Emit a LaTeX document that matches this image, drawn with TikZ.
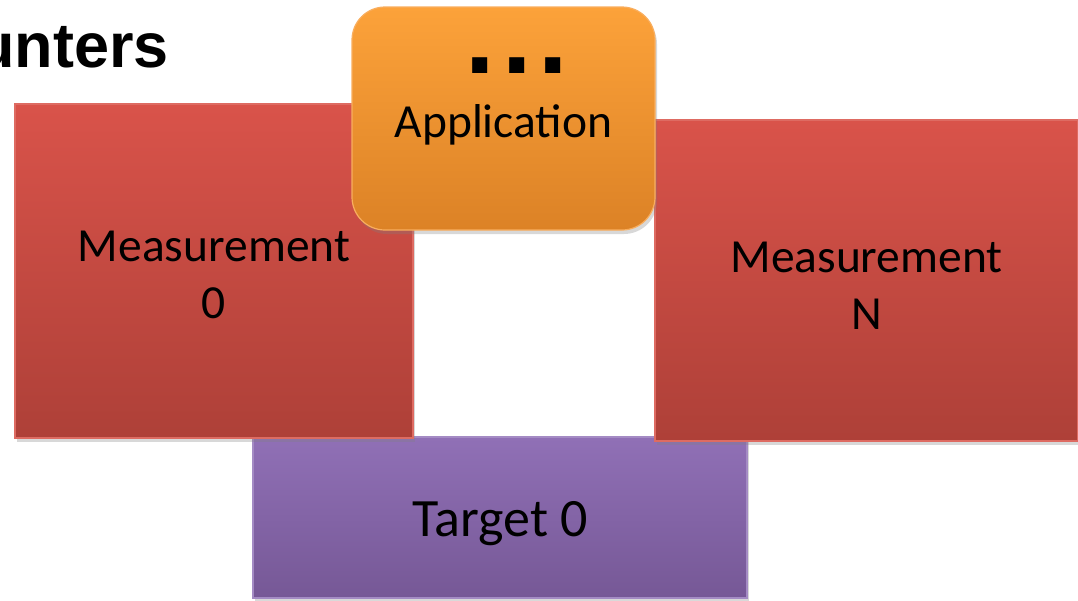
\documentclass[tikz,border=0pt]{standalone}
\usepackage{fontspec}
\setmainfont{Carlito}
\newfontfamily\titlefont{Liberation Sans}
\usetikzlibrary{shadows}
\definecolor{redtop}{HTML}{D9534A}
\definecolor{redbot}{HTML}{AE4038}
\definecolor{redline}{HTML}{DE6B62}
\definecolor{orgtop}{HTML}{FCA23A}
\definecolor{orgbot}{HTML}{DC8226}
\definecolor{orgline}{HTML}{F9AE5E}
\definecolor{purtop}{HTML}{9070B6}
\definecolor{purbot}{HTML}{765896}
\definecolor{purline}{HTML}{A48BC4}
\tikzset{
  box/.style={rectangle, inner sep=0pt, line width=1.2pt,
    drop shadow={opacity=0.3, shadow xshift=2pt, shadow yshift=-4pt}},
  redbox/.style={box, draw=redline, top color=redtop, bottom color=redbot},
  appbox/.style={box, draw=orgline, top color=orgtop, bottom color=orgbot, rounded corners=33pt},
  purbox/.style={box, draw=purline, top color=purtop, bottom color=purbot},
  lbl/.style={inner sep=0pt, align=center, font=\fontsize{47.5}{57}\selectfont}
}
\begin{document}
\begin{tikzpicture}[x=1pt,y=-1pt]
\clip (0,0) rectangle (1078,600);
\fill[white] (0,0) rectangle (1078,600);
\node (title) [anchor=base west, inner sep=0pt, font=\titlefont\bfseries\fontsize{63}{70}\selectfont] at (-24,67) {unters};
\node (target) [purbox, minimum width=494pt, minimum height=161pt] at (500,517.5) {};
\node (targetlbl) [lbl, font=\fontsize{54}{60}\selectfont] at ([yshift=-6pt]target.center) {Target 0};
\node (m0) [redbox, minimum width=398pt, minimum height=334pt] at (214,271) {};
\node (m0lbl) [lbl] at ([yshift=-4pt]m0.center) {Measurement\\0};
\node (mN) [redbox, minimum width=423pt, minimum height=321pt] at (866.5,280.5) {};
\node (mNlbl) [lbl] at ([yshift=-5pt]mN.center) {Measurement\\N};
\node (app) [appbox, minimum width=303pt, minimum height=223pt] at (503.5,118.5) {};
\node (dots) [inner sep=0pt, anchor=base, text height=14pt, text depth=0pt,
  font=\titlefont\bfseries\fontsize{106}{106}\selectfont] at (517,73) {.\hspace{7pt}.\hspace{7pt}.};
\node (applbl) [lbl, anchor=base] at (503.5,137) {Application};
\end{tikzpicture}
\end{document}
